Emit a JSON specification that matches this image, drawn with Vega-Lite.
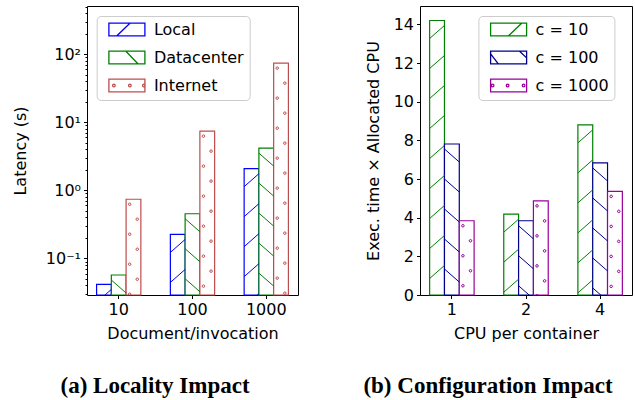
{
  "$schema": "https://vega.github.io/schema/vega-lite/v6.json",
  "padding": {"left": 11, "top": 5, "right": 5, "bottom": 0},
  "background": "white",
  "spacing": 63,
  "config": {
    "view": {"stroke": "black", "strokeWidth": 1},
    "axis": {
      "domainColor": "black", "tickColor": "black", "labelColor": "black", "titleColor": "black",
      "labelFont": "DejaVu Sans", "labelFontSize": 16, "titleFont": "DejaVu Sans", "titleFontSize": 16,
      "titleFontWeight": "normal", "grid": false, "tickSize": 3.5, "labelPadding": 3, "domain": false
    },
    "legend": {
      "labelFont": "DejaVu Sans", "labelFontSize": 16, "labelColor": "black",
      "symbolType": "M-18,-6.3H18V6.3H-18Z", "symbolSize": 4, "symbolFillColor": "white",
      "symbolStrokeWidth": 1.3, "fillColor": "rgba(255,255,255,0.8)", "strokeColor": "#cccccc",
      "cornerRadius": 4, "padding": 5.5, "rowPadding": 10, "symbolOffset": 16.7, "labelOffset": 19, "titlePadding": 0
    },
    "point": {"filled": false, "size": 4, "strokeWidth": 1, "opacity": 1},
    "title": {
      "font": "Liberation Serif", "fontWeight": "bold", "fontSize": 23, "color": "black",
      "orient": "bottom", "anchor": "middle", "offset": 33
    }
  },
  "resolve": {"scale": {"x": "independent", "xOffset": "independent", "y": "independent", "stroke": "independent", "shape": "independent"}, "legend": {"stroke": "independent", "shape": "independent"}},
  "hconcat": [
    {
      "width": 211, "height": 289,
      "title": {"text": "(a) Locality Impact", "dx": -37.5},
      "data": {"values": [
        {"doc": "10", "net": "Local", "lat": 0.0415},
        {"doc": "10", "net": "Datacenter", "lat": 0.057},
        {"doc": "10", "net": "Internet", "lat": 0.74},
        {"doc": "100", "net": "Local", "lat": 0.225},
        {"doc": "100", "net": "Datacenter", "lat": 0.453},
        {"doc": "100", "net": "Internet", "lat": 7.4},
        {"doc": "1000", "net": "Local", "lat": 2.08},
        {"doc": "1000", "net": "Datacenter", "lat": 4.17},
        {"doc": "1000", "net": "Internet", "lat": 73.8}
      ]},
      "encoding": {
        "x": {"field": "doc", "type": "nominal", "sort": ["10", "100", "1000"],
              "scale": {"paddingInner": 0.4, "paddingOuter": 0.13},
              "axis": {"title": "Document/invocation", "labelAngle": 0, "labelPadding": 3, "titlePadding": 8}},
        "xOffset": {"field": "net", "type": "nominal", "sort": ["Local", "Datacenter", "Internet"],
                    "scale": {"domain": ["Local", "Datacenter", "Internet"], "paddingInner": 0, "paddingOuter": 0}},
        "y": {"field": "lat", "type": "quantitative", "stack": null,
              "scale": {"type": "log", "domain": [0.029, 510], "nice": false},
              "axis": {"title": "Latency (s)", "titlePadding": 17,
                       "values": [0.03, 0.04, 0.05, 0.06, 0.07, 0.08, 0.09, 0.1, 0.2, 0.3, 0.4, 0.5, 0.6, 0.7, 0.8, 0.9, 1, 2, 3, 4, 5, 6, 7, 8, 9, 10, 20, 30, 40, 50, 60, 70, 80, 90, 100, 200, 300, 400, 500],
                       "labelExpr": "datum.value == 0.1 ? '10⁻¹' : datum.value == 1 ? '10⁰' : datum.value == 10 ? '10¹' : datum.value == 100 ? '10²' : ''",
                       "tickSize": {"condition": {"test": "indexof([0.1, 1, 10, 100], datum.value) >= 0", "value": 3.5}, "value": 2},
                       "labelPadding": 3}}
      },
      "layer": [
        {"mark": {"type": "bar", "fill": "white", "strokeWidth": 1.2},
         "encoding": {"y2": {"datum": 0.029},
           "stroke": {"field": "net", "type": "nominal",
                   "scale": {"domain": ["Local", "Datacenter", "Internet"], "range": ["#0000ff", "#008000", "#bf4c4c"]},
                   "legend": {"title": null, "orient": "none", "legendX": 9.7, "legendY": 10}}}},
        {"transform": [{"filter": {"field": "net", "equal": "Local"}}],
         "mark": {"type": "point", "color": "#0000ff", "clip": true,
                  "shape": "M-7.4,18L7.4,5M-7.4,48L7.4,35M-7.4,78L7.4,65M-7.4,108L7.4,95M-7.4,138L7.4,125M-7.4,168L7.4,155M-7.4,198L7.4,185M-7.4,228L7.4,215M-7.4,258L7.4,245M-7.4,288L7.4,275M-7.4,318L7.4,305"}},
        {"transform": [{"filter": {"field": "net", "equal": "Datacenter"}}],
         "mark": {"type": "point", "color": "#008000", "clip": true,
                  "shape": "M-7.4,5L7.4,18M-7.4,35L7.4,48M-7.4,65L7.4,78M-7.4,95L7.4,108M-7.4,125L7.4,138M-7.4,155L7.4,168M-7.4,185L7.4,198M-7.4,215L7.4,228M-7.4,245L7.4,258M-7.4,275L7.4,288M-7.4,305L7.4,318"}},
        {"transform": [{"filter": {"field": "net", "equal": "Internet"}}],
         "mark": {"type": "point", "color": "#bf4c4c", "clip": true,
                  "shape": "M-5.1,5a1.3,1.3 0 1,0 2.6,0a1.3,1.3 0 1,0 -2.6,0M2.5,20a1.3,1.3 0 1,0 2.6,0a1.3,1.3 0 1,0 -2.6,0M-5.1,35a1.3,1.3 0 1,0 2.6,0a1.3,1.3 0 1,0 -2.6,0M2.5,50a1.3,1.3 0 1,0 2.6,0a1.3,1.3 0 1,0 -2.6,0M-5.1,65a1.3,1.3 0 1,0 2.6,0a1.3,1.3 0 1,0 -2.6,0M2.5,80a1.3,1.3 0 1,0 2.6,0a1.3,1.3 0 1,0 -2.6,0M-5.1,95a1.3,1.3 0 1,0 2.6,0a1.3,1.3 0 1,0 -2.6,0M2.5,110a1.3,1.3 0 1,0 2.6,0a1.3,1.3 0 1,0 -2.6,0M-5.1,125a1.3,1.3 0 1,0 2.6,0a1.3,1.3 0 1,0 -2.6,0M2.5,140a1.3,1.3 0 1,0 2.6,0a1.3,1.3 0 1,0 -2.6,0M-5.1,155a1.3,1.3 0 1,0 2.6,0a1.3,1.3 0 1,0 -2.6,0M2.5,170a1.3,1.3 0 1,0 2.6,0a1.3,1.3 0 1,0 -2.6,0M-5.1,185a1.3,1.3 0 1,0 2.6,0a1.3,1.3 0 1,0 -2.6,0M2.5,200a1.3,1.3 0 1,0 2.6,0a1.3,1.3 0 1,0 -2.6,0M-5.1,215a1.3,1.3 0 1,0 2.6,0a1.3,1.3 0 1,0 -2.6,0M2.5,230a1.3,1.3 0 1,0 2.6,0a1.3,1.3 0 1,0 -2.6,0M-5.1,245a1.3,1.3 0 1,0 2.6,0a1.3,1.3 0 1,0 -2.6,0M2.5,260a1.3,1.3 0 1,0 2.6,0a1.3,1.3 0 1,0 -2.6,0M-5.1,275a1.3,1.3 0 1,0 2.6,0a1.3,1.3 0 1,0 -2.6,0M2.5,290a1.3,1.3 0 1,0 2.6,0a1.3,1.3 0 1,0 -2.6,0"}},
        {"mark": {"type": "point", "opacity": 0, "clip": true},
         "encoding": {
           "stroke": {"field": "net", "type": "nominal",
                   "scale": {"domain": ["Local", "Datacenter", "Internet"], "range": ["#0000ff", "#008000", "#bf4c4c"]},
                   "legend": {"title": null, "orient": "none", "legendX": 9.7, "legendY": 10}},
           "shape": {"field": "net", "type": "nominal", "legend": null,
                     "scale": {"domain": ["Local", "Datacenter", "Internet"], "range": [
                       "M-18,-6.3H18V6.3H-18ZM-10,6.3L3,-6.3",
                       "M-18,-6.3H18V6.3H-18ZM-1,-6.3L11,6.3",
                       "M-18,-6.3H18V6.3H-18ZM-14.3,0a1.3,1.3 0 1,0 2.6,0a1.3,1.3 0 1,0 -2.6,0M1.7,0a1.3,1.3 0 1,0 2.6,0a1.3,1.3 0 1,0 -2.6,0M15.7,0a1.3,1.3 0 1,0 2.6,0a1.3,1.3 0 1,0 -2.6,0"]}}}}
      ]
    },
    {
      "width": 212, "height": 289,
      "title": {"text": "(b) Configuration Impact", "dx": -38},
      "data": {"values": [
        {"cpu": "1", "c": "c = 10", "v": 14.2},
        {"cpu": "1", "c": "c = 100", "v": 7.81},
        {"cpu": "1", "c": "c = 1000", "v": 3.84},
        {"cpu": "2", "c": "c = 10", "v": 4.18},
        {"cpu": "2", "c": "c = 100", "v": 3.84},
        {"cpu": "2", "c": "c = 1000", "v": 4.87},
        {"cpu": "4", "c": "c = 10", "v": 8.8},
        {"cpu": "4", "c": "c = 100", "v": 6.83},
        {"cpu": "4", "c": "c = 1000", "v": 5.36}
      ]},
      "encoding": {
        "x": {"field": "cpu", "type": "nominal", "sort": ["1", "2", "4"],
              "scale": {"paddingInner": 0.4, "paddingOuter": 0.13},
              "axis": {"title": "CPU per container", "labelAngle": 0, "labelPadding": 3, "titlePadding": 8}},
        "xOffset": {"field": "c", "type": "nominal", "sort": ["c = 10", "c = 100", "c = 1000"],
                    "scale": {"domain": ["c = 10", "c = 100", "c = 1000"], "paddingInner": 0, "paddingOuter": 0}},
        "y": {"field": "v", "type": "quantitative", "stack": null,
              "scale": {"domain": [0, 14.95], "nice": false},
              "axis": {"title": "Exec. time × Allocated CPU", "titlePadding": 12,
                       "values": [0, 2, 4, 6, 8, 10, 12, 14]}}
      },
      "layer": [
        {"mark": {"type": "bar", "fill": "white", "strokeWidth": 1.2},
         "encoding": {
           "stroke": {"field": "c", "type": "nominal",
                   "scale": {"domain": ["c = 10", "c = 100", "c = 1000"], "range": ["#008000", "#00008b", "#990099"]},
                   "legend": {"title": null, "orient": "none", "legendX": 58.4, "legendY": 10}}}},
        {"transform": [{"filter": {"field": "c", "equal": "c = 10"}}],
         "mark": {"type": "point", "color": "#008000", "clip": true,
                  "shape": "M-7.4,18L7.4,5M-7.4,48L7.4,35M-7.4,78L7.4,65M-7.4,108L7.4,95M-7.4,138L7.4,125M-7.4,168L7.4,155M-7.4,198L7.4,185M-7.4,228L7.4,215M-7.4,258L7.4,245M-7.4,288L7.4,275M-7.4,318L7.4,305"}},
        {"transform": [{"filter": {"field": "c", "equal": "c = 100"}}],
         "mark": {"type": "point", "color": "#00008b", "clip": true,
                  "shape": "M-7.4,5L7.4,18M-7.4,35L7.4,48M-7.4,65L7.4,78M-7.4,95L7.4,108M-7.4,125L7.4,138M-7.4,155L7.4,168M-7.4,185L7.4,198M-7.4,215L7.4,228M-7.4,245L7.4,258M-7.4,275L7.4,288M-7.4,305L7.4,318"}},
        {"transform": [{"filter": {"field": "c", "equal": "c = 1000"}}],
         "mark": {"type": "point", "color": "#990099", "clip": true,
                  "shape": "M-5.1,5a1.3,1.3 0 1,0 2.6,0a1.3,1.3 0 1,0 -2.6,0M2.5,20a1.3,1.3 0 1,0 2.6,0a1.3,1.3 0 1,0 -2.6,0M-5.1,35a1.3,1.3 0 1,0 2.6,0a1.3,1.3 0 1,0 -2.6,0M2.5,50a1.3,1.3 0 1,0 2.6,0a1.3,1.3 0 1,0 -2.6,0M-5.1,65a1.3,1.3 0 1,0 2.6,0a1.3,1.3 0 1,0 -2.6,0M2.5,80a1.3,1.3 0 1,0 2.6,0a1.3,1.3 0 1,0 -2.6,0M-5.1,95a1.3,1.3 0 1,0 2.6,0a1.3,1.3 0 1,0 -2.6,0M2.5,110a1.3,1.3 0 1,0 2.6,0a1.3,1.3 0 1,0 -2.6,0M-5.1,125a1.3,1.3 0 1,0 2.6,0a1.3,1.3 0 1,0 -2.6,0M2.5,140a1.3,1.3 0 1,0 2.6,0a1.3,1.3 0 1,0 -2.6,0M-5.1,155a1.3,1.3 0 1,0 2.6,0a1.3,1.3 0 1,0 -2.6,0M2.5,170a1.3,1.3 0 1,0 2.6,0a1.3,1.3 0 1,0 -2.6,0M-5.1,185a1.3,1.3 0 1,0 2.6,0a1.3,1.3 0 1,0 -2.6,0M2.5,200a1.3,1.3 0 1,0 2.6,0a1.3,1.3 0 1,0 -2.6,0M-5.1,215a1.3,1.3 0 1,0 2.6,0a1.3,1.3 0 1,0 -2.6,0M2.5,230a1.3,1.3 0 1,0 2.6,0a1.3,1.3 0 1,0 -2.6,0M-5.1,245a1.3,1.3 0 1,0 2.6,0a1.3,1.3 0 1,0 -2.6,0M2.5,260a1.3,1.3 0 1,0 2.6,0a1.3,1.3 0 1,0 -2.6,0M-5.1,275a1.3,1.3 0 1,0 2.6,0a1.3,1.3 0 1,0 -2.6,0M2.5,290a1.3,1.3 0 1,0 2.6,0a1.3,1.3 0 1,0 -2.6,0"}},
        {"mark": {"type": "point", "opacity": 0, "clip": true},
         "encoding": {
           "stroke": {"field": "c", "type": "nominal",
                   "scale": {"domain": ["c = 10", "c = 100", "c = 1000"], "range": ["#008000", "#00008b", "#990099"]},
                   "legend": {"title": null, "orient": "none", "legendX": 58.4, "legendY": 10}},
           "shape": {"field": "c", "type": "nominal", "legend": null,
                     "scale": {"domain": ["c = 10", "c = 100", "c = 1000"], "range": [
                       "M-18,-6.3H18V6.3H-18ZM0,6.3L13,-6.3",
                       "M-18,-6.3H18V6.3H-18ZM-18,-3.6L-10.3,6.3M11,-6.3L18,0.4",
                       "M-18,-6.3H18V6.3H-18ZM-17.3,0a1.3,1.3 0 1,0 2.6,0a1.3,1.3 0 1,0 -2.6,0M-2.3,0a1.3,1.3 0 1,0 2.6,0a1.3,1.3 0 1,0 -2.6,0M13.7,0a1.3,1.3 0 1,0 2.6,0a1.3,1.3 0 1,0 -2.6,0"]}}}}
      ]
    }
  ]
}
